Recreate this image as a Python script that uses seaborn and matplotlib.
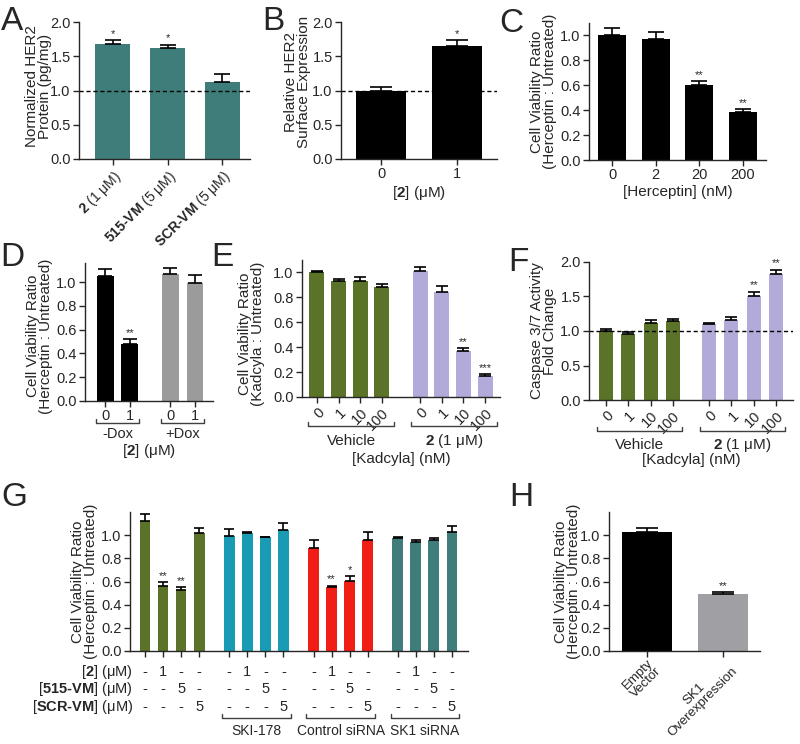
import numpy as np
import pandas as pd
import matplotlib
matplotlib.use("Agg")
import matplotlib.pyplot as plt
from matplotlib.lines import Line2D
import seaborn as sns

# %%
# valores
a_labels = [r"$\mathbf{2}$ (1 μM)", r"$\mathbf{515‐VM}$ (5 μM)", r"$\mathbf{SCR‐VM}$ (5 μM)"]
a_vals = [1.68, 1.62, 1.12]
a_err = [0.06, 0.05, 0.12]
a_sig = ["*", "*", ""]

b_labels = ["0", "1"]
b_vals = [1.00, 1.65]
b_err = [0.05, 0.09]
b_sig = ["", "*"]

c_labels = ["0", "2", "20", "200"]
c_vals = [1.00, 0.975, 0.60, 0.385]
c_err = [0.06, 0.05, 0.035, 0.025]
c_sig = ["", "", "**", "**"]

d_labels = ["0", "1", "0", "1"]
d_groups = ["-Dox", "+Dox"]
d_vals = [1.05, 0.48, 1.07, 0.99]
d_err = [0.06, 0.04, 0.05, 0.07]
d_sig = ["", "**", "", ""]

kad_labels = ["0", "1", "10", "100"] * 2
kad_groups = ["Vehicle", r"$\mathbf{2}$ (1 μM)"]
e_vals = [1.00, 0.93, 0.935, 0.885, 1.015, 0.84, 0.37, 0.17]
e_err = [0.01, 0.02, 0.025, 0.025, 0.025, 0.05, 0.025, 0.012]
e_sig = ["", "", "", "", "", "", "**", "***"]

f_vals = [1.00, 0.96, 1.115, 1.15, 1.10, 1.16, 1.50, 1.82]
f_err = [0.03, 0.03, 0.05, 0.03, 0.02, 0.04, 0.07, 0.07]
f_sig = ["", "", "", "", "", "", "**", "**"]

g_groups = ["", "SKI-178", "Control siRNA", "SK1 siRNA"]
g_vals = [1.12, 0.565, 0.53, 1.015,
          0.99, 1.015, 0.98, 1.045,
          0.89, 0.555, 0.605, 0.955,
          0.975, 0.945, 0.955, 1.025]
g_err = [0.06, 0.03, 0.02, 0.05,
         0.06, 0.015, 0.005, 0.06,
         0.07, 0.01, 0.045, 0.07,
         0.005, 0.01, 0.02, 0.05]
g_sig = ["", "**", "**", "",
         "", "", "", "",
         "", "**", "*", "",
         "", "", "", ""]
g_rows = [r"[$\mathbf{2}$] (μM)", r"[$\mathbf{515‐VM}$] (μM)", r"[$\mathbf{SCR‐VM}$] (μM)"]
g_row_vals = [["-", "1", "-", "-"] * 4,
              ["-", "-", "5", "-"] * 4,
              ["-", "-", "-", "5"] * 4]

h_labels = ["Empty\nVector", "SK1\nOverexpression"]
h_vals = [1.03, 0.49]
h_err = [0.03, 0.02]
h_sig = ["", "**"]

teal = "#3e7d7a"
green = "#5a7328"
lav = "#b2aad8"

# %%
sns.set_theme(style="ticks")
plt.rcParams["font.family"] = ["Liberation Sans", "DejaVu Sans"]
plt.rcParams["mathtext.fontset"] = "custom"
plt.rcParams["mathtext.rm"] = "Liberation Sans"
plt.rcParams["mathtext.bf"] = "Liberation Sans:bold"
plt.rcParams["font.size"] = 10.5
plt.rcParams["axes.linewidth"] = 1.0

W, H = 800, 744
LAB = 11
TICK = 10.5
fig = plt.figure(figsize=(W / 100, H / 100), dpi=100)
fig.patch.set_facecolor("white")


def add_ax(l, t, r, b):
    return fig.add_axes([l / W, 1 - b / H, (r - l) / W, (b - t) / H])


def ay(ax, ypx):
    p = ax.get_position()
    return ((1 - ypx / H) - p.y0) / p.height


def bars(ax, pos, vals, errs, colors, width, capsize, sig, ylim, yticks, xlim):
    df = pd.DataFrame({"x": pos, "y": vals, "c": [str(i) for i in range(len(pos))]})
    sns.barplot(data=df, x="x", y="y", hue="c", palette=colors, native_scale=True,
                width=width, legend=False, ax=ax, saturation=1, errorbar=None, linewidth=0)
    ax.errorbar(pos, vals, yerr=[np.zeros(len(vals)), errs], fmt="none", ecolor="black",
                elinewidth=1.2, capsize=capsize, capthick=1.2)
    for x, v, e, s in zip(pos, vals, errs, sig):
        if s:
            ax.text(x, v + e + 0.008 * ylim[1], s, ha="center", va="bottom", fontsize=8)
    ax.set_ylim(*ylim)
    ax.set_yticks(yticks)
    ax.set_yticklabels([f"{t:.1f}" for t in yticks])
    ax.set_xlim(*xlim)
    ax.set_xticks(pos)
    ax.set_xlabel("")
    ax.set_ylabel("")
    sns.despine(ax=ax)
    ax.tick_params(direction="out", length=4, width=1.0, labelsize=TICK, pad=2)


def ylab(ax, text, xpx, ypx=None):
    ax.set_ylabel(text, fontsize=LAB, linespacing=0.92)
    p = ax.get_position()
    yc = p.y0 + p.height / 2 if ypx is None else 1 - ypx / H
    ax.yaxis.set_label_coords(xpx / W, yc, transform=fig.transFigure)


def bracket(ax, x0, x1, ypx, label, lpx, size=LAB):
    y = ay(ax, ypx)
    tip = 4 / (ax.get_position().height * H)
    ax.add_line(Line2D([x0, x0, x1, x1], [y + tip, y, y, y + tip], color="0.25", lw=1.0,
                       transform=ax.get_xaxis_transform(), clip_on=False))
    ax.text((x0 + x1) / 2, ay(ax, lpx), label, ha="center", va="center", fontsize=size,
            transform=ax.get_xaxis_transform())


def positions(n_groups, per_group, gap):
    return [g * gap + i for g in range(n_groups) for i in range(per_group)]


# %% A
ax = add_ax(79, 22, 250, 159)
pos = list(range(len(a_vals)))
bars(ax, pos, a_vals, a_err, [teal] * 3, 0.64, 6, a_sig, (0, 2), [0, 0.5, 1.0, 1.5, 2.0], (-0.62, 2.51))
ax.axhline(1.0, color="black", lw=1.0, ls=(0, (3, 2)))
ax.set_xticklabels(a_labels, rotation=45, ha="right", rotation_mode="anchor", fontsize=10)
ylab(ax, "Normalized HER2\nProtein (pg/mg)", 52, 86)

# %% B
ax = add_ax(341, 22, 497, 159)
pos = list(range(len(b_vals)))
bars(ax, pos, b_vals, b_err, ["black"] * 2, 0.66, 8, b_sig, (0, 2), [0, 0.5, 1.0, 1.5, 2.0], (-0.53, 1.53))
ax.axhline(1.0, color="black", lw=1.0, ls=(0, (3, 2)))
ax.set_xticklabels(b_labels)
ax.text(0.5, ay(ax, 193), r"[$\mathbf{2}$] (μM)", ha="center", va="center", fontsize=LAB,
        transform=ax.transAxes)
ylab(ax, "Relative HER2\nSurface Expression", 311, 82)

# %% C
ax = add_ax(589, 23, 766, 160)
pos = list(range(len(c_vals)))
bars(ax, pos, c_vals, c_err, ["black"] * 4, 0.65, 6, c_sig, (0, 1.1), [0, 0.2, 0.4, 0.6, 0.8, 1.0], (-0.53, 3.53))
ax.set_xticklabels(c_labels)
ax.text(0.5, ay(ax, 192), "[Herceptin] (nM)", ha="center", va="center", fontsize=LAB,
        transform=ax.transAxes)
ylab(ax, "Cell Viability Ratio\n(Herceptin : Untreated)", 557)

# %% D
ax = add_ax(85, 263, 213, 401)
pos = positions(2, 2, 2.65)
bars(ax, pos, d_vals, d_err, ["black", "black", "#9b9b9b", "#9b9b9b"], 0.68, 5, d_sig,
     (0, 1.16), [0, 0.2, 0.4, 0.6, 0.8, 1.0], (-0.82, 4.38))
ax.set_xticklabels(d_labels)
for g, name in enumerate(d_groups):
    bracket(ax, pos[2 * g] - 0.38, pos[2 * g + 1] + 0.38, 423, name, 434, 10.5)
ax.text(0.5, ay(ax, 451), r"[$\mathbf{2}$] (μM)", ha="center", va="center", fontsize=LAB,
        transform=ax.transAxes)
ylab(ax, "Cell Viability Ratio\n(Herceptin : Untreated)", 53, 336)

# %% E
ax = add_ax(302, 260, 500, 397)
pos = positions(2, 4, 4.77)
bars(ax, pos, e_vals, e_err, [green] * 4 + [lav] * 4, 0.69, 4, e_sig,
     (0, 1.1), [0, 0.2, 0.4, 0.6, 0.8, 1.0], (-0.69, 8.46))
ax.set_xticklabels(kad_labels, rotation=45, ha="right", rotation_mode="anchor")
for g, name in enumerate(kad_groups):
    bracket(ax, pos[4 * g] - 0.4, pos[4 * g + 3] + 0.55, 426, name, 441)
ax.text(0.5, ay(ax, 459), "[Kadcyla] (nM)", ha="center", va="center", fontsize=LAB,
        transform=ax.transAxes)
ylab(ax, "Cell Viability Ratio\n(Kadcyla : Untreated)", 265, 334)

# %% F
ax = add_ax(589, 262, 793, 400)
pos = positions(2, 4, 4.62)
bars(ax, pos, f_vals, f_err, [green] * 4 + [lav] * 4, 0.63, 4, f_sig,
     (0, 2), [0, 0.5, 1.0, 1.5, 2.0], (-0.76, 8.38))
ax.axhline(1.0, color="black", lw=1.0, ls=(0, (3, 2)))
ax.set_xticklabels(kad_labels, rotation=45, ha="right", rotation_mode="anchor")
for g, name in enumerate(kad_groups):
    bracket(ax, pos[4 * g] - 0.4, pos[4 * g + 3] + 0.4, 431, name, 445)
ax.text(0.5, ay(ax, 460), "[Kadcyla] (nM)", ha="center", va="center", fontsize=LAB,
        transform=ax.transAxes)
ylab(ax, "Caspase 3/7 Activity\nFold Change", 557)

# %% G
ax = add_ax(130, 512, 468, 651)
pos = positions(4, 4, 4.67)
bars(ax, pos, g_vals, g_err, [green] * 4 + ["#199bb4"] * 4 + ["#f01e14"] * 4 + [teal] * 4,
     0.6, 3.5, g_sig, (0, 1.2), [0, 0.2, 0.4, 0.6, 0.8, 1.0], (-0.83, 17.9))
ax.set_xticklabels([])
for r, (row, ypx) in enumerate(zip(g_rows, [672, 689, 707])):
    fig.text(133 / W, 1 - ypx / H, row, ha="right", va="center", fontsize=10.5)
    for x, s in zip(pos, g_row_vals[r]):
        ax.text(x, ay(ax, ypx), s, ha="center", va="center", fontsize=10.5,
                transform=ax.get_xaxis_transform())
for g, name in enumerate(g_groups):
    if name:
        bracket(ax, pos[4 * g] - 0.4, pos[4 * g + 3] + 0.4, 718, name, 731, 10)
ylab(ax, "Cell Viability Ratio\n(Herceptin : Untreated)", 98)

# %% H
ax = add_ax(609, 512, 760, 651)
pos = list(range(len(h_vals)))
bars(ax, pos, h_vals, h_err, ["black", "#a0a0a4"], 0.66, 8, h_sig,
     (0, 1.2), [0, 0.2, 0.4, 0.6, 0.8, 1.0], (-0.5, 1.49))
ax.set_xticklabels(h_labels, rotation=45, ha="right", rotation_mode="anchor",
                   multialignment="center", fontsize=9.5, linespacing=0.95)
ax.tick_params(axis="x", pad=0.5)
ylab(ax, "Cell Viability Ratio\n(Herceptin : Untreated)", 581)

# %% letras dos paineis
for letter, x, y in [("A", 1, 6), ("B", 262, 6), ("C", 499, 8), ("D", 0, 242),
                     ("E", 211, 242), ("F", 508, 247), ("G", 1, 482), ("H", 509, 482)]:
    fig.text(x / W, 1 - y / H, letter, fontsize=24, va="top", ha="left")

fig.savefig("out.png", dpi=100)
